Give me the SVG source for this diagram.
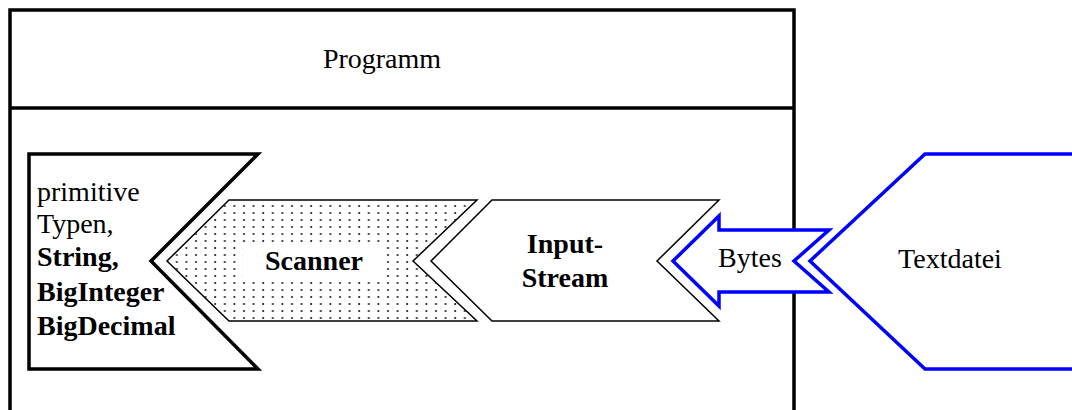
<svg xmlns="http://www.w3.org/2000/svg" width="1072" height="410" viewBox="0 0 1072 410">
  <defs>
    <pattern id="dots" x="0" y="0" width="9.6" height="7" patternUnits="userSpaceOnUse">
      <circle cx="4" cy="3" r="1.1" fill="#222"/>
    </pattern>
    <style>
      text { font-family: "Liberation Serif", "Times New Roman", serif; font-size: 28px; fill: #000; }
      .b { font-weight: bold; }
      .mid { text-anchor: middle; }
      .thick { fill: #fff; stroke: #000; stroke-width: 3.5; stroke-linejoin: miter; }
      .thin { stroke: #000; stroke-width: 1.5; stroke-linejoin: miter; }
      .blue { fill: #fff; stroke: #0000ff; stroke-width: 3.5; stroke-linejoin: miter; }
    </style>
  </defs>
  <rect width="1072" height="410" fill="#fff"/>
  <g id="programm">
    <rect x="10" y="10" width="784" height="420" fill="#fff" stroke="#000" stroke-width="3.5"/>
    <line x1="10" y1="108" x2="794" y2="108" stroke="#000" stroke-width="3.5"/>
    <text class="mid" x="382" y="68">Programm</text>
  </g>
  <g id="typen">
    <polygon class="thick" points="29,154 258,154 151,261 258,369 29,369"/>
    <text x="37" y="201">primitive</text>
    <text x="37" y="233">Typen,</text>
    <text class="b" x="37" y="266">String,</text>
    <text class="b" x="37" y="301">BigInteger</text>
    <text class="b" x="37" y="335">BigDecimal</text>
  </g>
  <g id="scanner">
    <polygon class="thin" fill="#fff" points="229,200 477,200 413,261 477,321 229,321 167,261"/>
    <polygon fill="url(#dots)" points="229,200 477,200 413,261 477,321 229,321 167,261"/>
    <rect x="243" y="244" width="140" height="37" fill="#fff"/>
    <text class="b mid" x="314" y="270">Scanner</text>
  </g>
  <g id="inputstream">
    <polygon class="thin" fill="#fff" points="492,200 719,200 657,261 719,321 492,321 431,261"/>
    <text class="b mid" x="565" y="253">Input-</text>
    <text class="b mid" x="565" y="287">Stream</text>
  </g>
  <g id="connectors">
    <g id="bytes">
      <polygon class="blue" points="673,261 719,216 719,230 829,230 794,261 829,292 719,292 719,306"/>
      <text class="mid" x="750" y="267">Bytes</text>
    </g>
  </g>
  <g id="textdatei">
    <polygon class="blue" points="1080,154 925,154 810,261 925,369 1080,369"/>
    <text class="mid" x="950" y="268">Textdatei</text>
  </g>
</svg>
